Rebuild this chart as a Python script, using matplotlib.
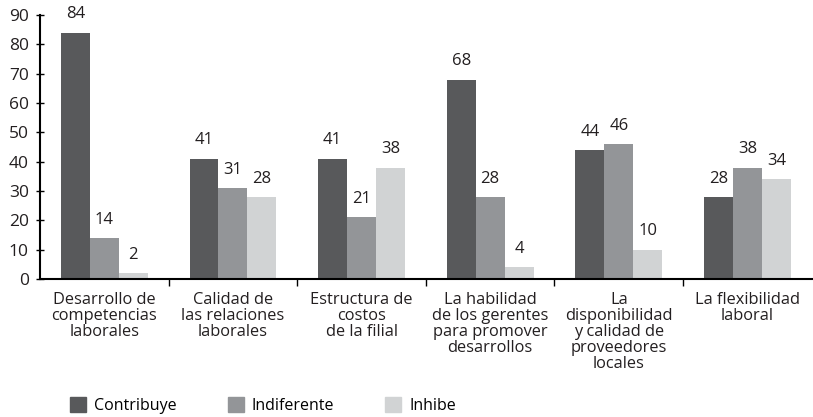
import matplotlib
matplotlib.use("Agg")
import matplotlib.pyplot as plt
import numpy as np
from matplotlib.patches import Patch

categories = ["Desarrollo de\ncompetencias\nlaborales",
              "Calidad de\nlas relaciones\nlaborales",
              "Estructura de\ncostos\nde la filial",
              "La habilidad\nde los gerentes\npara promover\ndesarrollos",
              "La\ndisponibilidad\ny calidad de\nproveedores\nlocales",
              "La flexibilidad\nlaboral"]
series_names = ["Contribuye", "Indiferente", "Inhibe"]
contribuye = [84, 41, 41, 68, 44, 28]
indiferente = [14, 31, 21, 28, 46, 38]
inhibe = [2, 28, 38, 4, 10, 34]
yticks = [0, 10, 20, 30, 40, 50, 60, 70, 80, 90]
colors = ["#58595b", "#939598", "#d1d3d4"]

plt.rcParams['font.family'] = ['Open Sans', 'DejaVu Sans']

fig = plt.figure(figsize=(8.13, 4.17), dpi=100)
ax = fig.add_axes([40/813, 1-279/417, 773/813, (279-15)/417])

x = np.arange(len(categories))
w = 0.225
for i, (vals, c) in enumerate(zip([contribuye, indiferente, inhibe], colors)):
    pos = x + (i - 1) * w
    ax.bar(pos, vals, width=w, color=c, label=series_names[i])
    for p, v in zip(pos, vals):
        ax.text(p, v + 3.5, str(v), ha='center', va='bottom', fontsize=12, color='#231f20')

ax.set_xlim(-0.5, len(categories) - 0.5 + 0.01)
ax.set_ylim(0, 90)
ax.set_yticks(yticks)
ax.set_yticklabels([str(t) for t in yticks], fontsize=12.5, color='#231f20')
ax.spines['top'].set_visible(False)
ax.spines['right'].set_visible(False)
ax.spines['left'].set_linewidth(1.5)
ax.spines['bottom'].set_linewidth(1.5)
ax.tick_params(axis='y', direction='inout', length=6, width=1, pad=5)

# category boundary ticks
ax.set_xticks(np.arange(0.5, len(categories) - 0.5, 1.0))
ax.set_xticklabels([])
ax.tick_params(axis='x', direction='out', length=5, width=1)
for xi, lab in zip(x, categories):
    ax.text(xi, -4.5, lab, ha='center', va='top', fontsize=11.8, color='#231f20',
            linespacing=1.0)

handles = [Patch(color=c) for c in colors]
fig.legend(handles, series_names, loc='lower left', bbox_to_anchor=(62/813, -0.012),
           ncol=3, frameon=False, fontsize=11.5, handlelength=1.0, handleheight=1.0,
           columnspacing=3.2, handletextpad=0.5, borderaxespad=0.1)

fig.savefig("out.png", dpi=100)
